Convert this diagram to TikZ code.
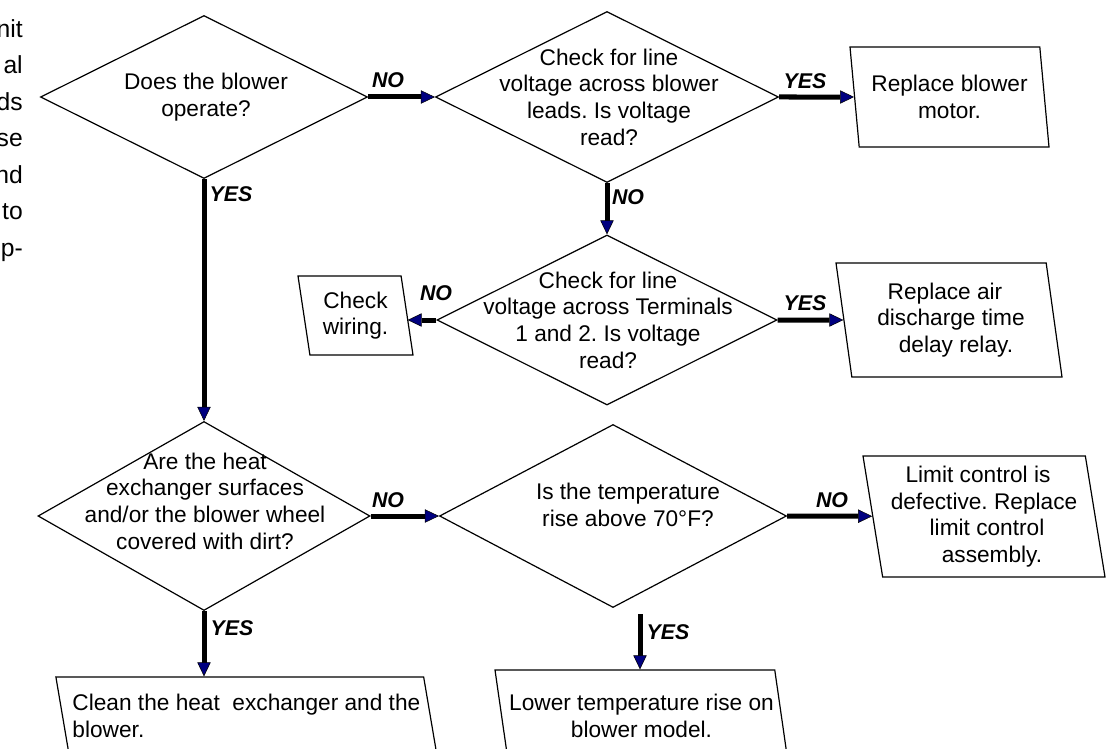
\documentclass[tikz,border=0pt]{standalone}
\usepackage{fontspec}
\setmainfont{Liberation Sans}
\usetikzlibrary{
  arrows.meta,
  positioning,
  shapes.geometric
}
\definecolor{flownavy}{HTML}{000080}
\newdimen\flowpx
\flowpx=0.75pt
\frenchspacing

\begin{document}
\begin{tikzpicture}[
  x=0.75pt, y=-0.75pt,
  question/.style={draw, diamond, inner sep=0pt, line width=0.9pt},
  qtext/.style={align=center, inner sep=0pt, font=\fontsize{17}{20}\selectfont},
  action/.style={draw, trapezium, trapezium left angle=102, trapezium right angle=78,
    trapezium stretches body, inner sep=0pt, line width=0.9pt, align=center,
    font=\fontsize{17}{20}\selectfont},
  answer/.style={inner sep=0pt, font=\fontsize{16}{18}\selectfont\bfseries\itshape},
  arrow/.style={-{Triangle[length=10.5pt, width=10pt, line width=0.4pt, fill=flownavy]},
    line width=3.75pt}
]
  \clip (0,0) rectangle (1110,749);

  % cut-off text at the margin
  \node[qtext, align=right, anchor=north east, font=\fontsize{18.5}{27.4}\selectfont]
    (margin) at (23,19) {nit\\al\\ds\\se\\nd\\to\\p-};

  % Questions
  \node[question, minimum width=327\flowpx, minimum height=163\flowpx] (q1) at (204,97) {};
  \node[qtext] (q1t) at (206,97) {Does the blower\\operate?};
  \node[question, minimum width=343\flowpx, minimum height=171\flowpx] (q2) at (607,97) {};
  \node[qtext] (q2t) at (609,97) {Check for line\\voltage across blower\\leads. Is voltage\\read?};
  \node[question, minimum width=340\flowpx, minimum height=170\flowpx] (q3) at (607,320) {};
  \node[qtext] (q3t) at (608,320) {Check for line\\voltage across Terminals\\1 and 2. Is voltage\\read?};
  \node[question, minimum width=332\flowpx, minimum height=189\flowpx] (q4) at (204,516) {};
  \node[qtext] (q4t) at (205,501) {Are the heat\\exchanger surfaces\\and/or the blower wheel\\covered with dirt?};
  \node[question, minimum width=347\flowpx, minimum height=183\flowpx] (q5) at (613,516) {};
  \node[qtext] (q5t) at (628,505) {Is the temperature\\rise above 70°F?};

  % Actions
  \node[action, minimum width=199\flowpx, minimum height=100\flowpx] (motor) at (949.5,97)
    {Replace blower\\motor.};
  \node[action, minimum width=115\flowpx, minimum height=79\flowpx,
    trapezium left angle=104, trapezium right angle=76] (wiring) at (355.5,315.5)
    {Check\\wiring.};
  \node[action, minimum width=226\flowpx, minimum height=114\flowpx] (relay) at (949,320)
    {Replace air\hspace*{8\flowpx}\\\hspace*{4\flowpx}discharge time\\\hspace*{14\flowpx}delay relay.};
  \node[action, minimum width=242\flowpx, minimum height=121\flowpx,
    trapezium left angle=101, trapezium right angle=79] (limit) at (984,516.5)
    {Limit control is\hspace*{12\flowpx}\\defective. Replace\hspace*{4\flowpx}\\\hspace*{6\flowpx}limit control\\\hspace*{16\flowpx}assembly.};
  \node[action, align=left, minimum width=381\flowpx, minimum height=78\flowpx,
    trapezium left angle=107, trapezium right angle=73] (clean) at (246.4,716)
    {Clean the heat\ \ exchanger and the\\ blower.};
  \node[action, minimum width=293\flowpx, minimum height=92\flowpx,
    trapezium left angle=107, trapezium right angle=73] (lower) at (641.5,716)
    {Lower temperature rise on\\blower model.};

  % Arrows
  \coordinate (q5yes) at (640,614);
  \draw[arrow] (q1.east) -- (q2.west);
  \draw[arrow] (q2.east) -- (motor);
  \draw[arrow] (q2.south) -- (q3.north);
  \draw[arrow] (q3.west) -- (q3.west -| wiring.east);
  \draw[arrow] (q3.east) -- (relay);
  \draw[arrow] (q1.south) -- (q4.north);
  \draw[arrow] (q4.east) -- (q5.west);
  \draw[arrow] (q5.east) -- (limit);
  \draw[arrow] (q4.south) -- (q4.south |- clean.north);
  \draw[arrow] (q5yes) -- (q5yes |- lower.north);

  % Answers
  \node[answer] (no1) at (388,80) {NO};
  \node[answer] (yes1) at (805,81) {YES};
  \node[answer] (no2) at (628,197) {NO};
  \node[answer] (no3) at (436,293) {NO};
  \node[answer] (yes2) at (805,303) {YES};
  \node[answer] (yes3) at (231,194) {YES};
  \node[answer] (no4) at (388,500) {NO};
  \node[answer] (no5) at (832,500) {NO};
  \node[answer] (yes4) at (232,628) {YES};
  \node[answer] (yes5) at (668,632) {YES};

\end{tikzpicture}
\end{document}
